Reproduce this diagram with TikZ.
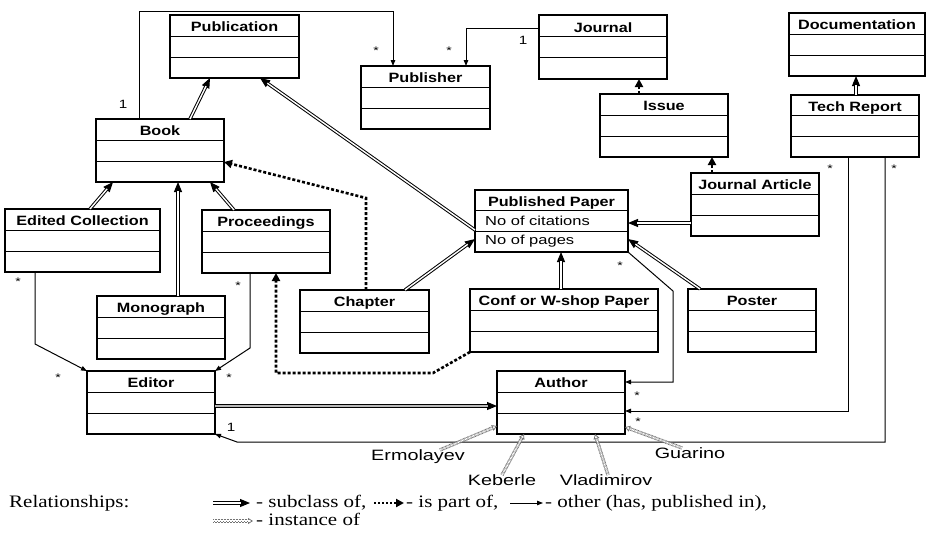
\documentclass[tikz,border=0pt]{standalone}
\usepackage{fontspec}
\setmainfont{Liberation Serif}[FakeStretch=1.2]
\newfontfamily\hvb{Liberation Sans}[FakeStretch=1.2]
\newfontfamily\hvr{Liberation Sans}[FakeStretch=1.27]
\newfontfamily\hvn{Liberation Sans}[FakeStretch=1.32]
\usetikzlibrary{arrows.meta,calc}

\tikzset{
  clsbox/.style={draw, line width=1.1pt, inner sep=0pt, outer sep=0pt, rectangle},
  clsline/.style={line width=1pt},
  clstitle/.style={inner sep=0pt, font=\hvb\bfseries\fontsize{13.5}{15}\selectfont, text height=9.7pt, text depth=0pt},
  clsattr/.style={inner sep=0pt, font=\hvr\fontsize{13}{15}\selectfont, text height=9.3pt, text depth=0pt},
  mult/.style={inner sep=0pt, font=\hvr\fontsize{11}{12}\selectfont},
  multone/.style={inner sep=0pt, font=\hvr\fontsize{12}{13}\selectfont},
  person/.style={inner sep=0pt, font=\hvn\fontsize{15}{17}\selectfont, text height=10.7pt, text depth=3pt},
  legtext/.style={inner sep=0pt, font=\fontsize{17.5}{19}\selectfont},
  other/.style={line width=1pt, -{Triangle[length=6pt,width=4.5pt]}},
  partof/.style={line width=2.6pt, dash pattern=on 3pt off 2pt, -{Triangle[length=8pt,width=8pt]}},
  subtip/.style={line width=1pt, -{Triangle[length=10pt,width=8pt]}},
  subline/.style={line width=1pt, double distance=1.4pt, shorten >=9pt},
  insttip/.style={draw=black!55, line width=0.8pt, -{Triangle[open,length=5pt,width=6pt]}},
  instline/.style={draw=black!55, line width=1pt, double=white, double distance=1.4pt, dash pattern=on 0.9pt off 0.6pt, shorten >=5pt},
}

\newcommand\umlcls[6]{%
  \pgfmathsetmacro\clsw{#4-#2}\pgfmathsetmacro\clsh{#5-#3}%
  \node[clsbox, minimum width=\clsw pt, minimum height=\clsh pt] (#1) at ({(#2+#4)/2},{(#3+#5)/2}) {};
  \draw[clsline] ($(#1.north west)!1/3!(#1.south west)$) -- ($(#1.north east)!1/3!(#1.south east)$);
  \draw[clsline] ($(#1.north west)!2/3!(#1.south west)$) -- ($(#1.north east)!2/3!(#1.south east)$);
  \node[clstitle, yshift=-1.5pt] (#1-t) at ($(#1.north)!1/6!(#1.south)$) {#6};
}
\newcommand\subarr[3][white]{%
  \draw[subtip] #2 -- #3;
  \draw[subline, double=#1] #2 -- #3;
}
\newcommand\instarr[2]{%
  \draw[insttip] #1 -- #2;
  \draw[instline] #1 -- #2;
}

\begin{document}
\begin{tikzpicture}[x=1pt, y=-1pt]
\useasboundingbox (0,0) rectangle (928,533);

% classes
\umlcls{pub}{170}{15}{299}{78}{Publication}
\umlcls{book}{96}{119}{224}{182}{Book}
\umlcls{pubr}{361}{66}{490}{129}{Publisher}
\umlcls{jour}{539}{15}{667}{79}{Journal}
\umlcls{issue}{600}{94}{728}{157}{Issue}
\umlcls{doc}{789}{13}{925}{76}{Documentation}
\umlcls{tr}{791}{95}{919}{157}{Tech Report}
\umlcls{ja}{691}{173}{819}{236}{Journal Article}
\umlcls{pp}{475}{190}{628}{252}{Published Paper}
\umlcls{ec}{5}{209}{160}{272}{Edited Collection}
\umlcls{proc}{202}{210}{330}{273}{Proceedings}
\umlcls{mono}{97}{296}{225}{359}{Monograph}
\umlcls{ed}{87}{371}{215}{434}{Editor}
\umlcls{chap}{300}{290}{429}{353}{Chapter}
\umlcls{conf}{470}{289}{658}{352}{Conf or W-shop Paper}
\umlcls{auth}{497}{371}{625}{434}{Author}
\umlcls{post}{688}{289}{816}{352}{Poster}

\node[clsattr, anchor=west] (pp-a) at ([xshift=10pt]$(pp.north west)!1/2!(pp.south west)$) {No of citations};
\node[clsattr, anchor=west, yshift=2pt] (pp-b) at ([xshift=10pt]$(pp.north west)!5/6!(pp.south west)$) {No of pages};

% bend points
\coordinate (k1) at (673,291);
\coordinate (k3) at (237,442);
\coordinate (k4) at (35,344);
\coordinate (k5) at (250,348);
\coordinate (k6) at (433,373);
\coordinate (k8) at (366,198);
\coordinate (k9) at (393,11);

% subclass
\subarr{([xshift=94pt]book.north west)}{([xshift=40pt]pub.south west)}
\subarr{([yshift=-40pt]pp.north west)}{([xshift=90pt]pub.south west)}
\subarr{([xshift=85pt]ec.north west)}{([xshift=17pt]book.south west)}
\subarr{([xshift=81pt]mono.north west)}{([xshift=82pt]book.south west)}
\subarr{([xshift=32pt]proc.north west)}{([xshift=114pt]book.south west)}
\subarr{([xshift=105pt]chap.north west)}{([yshift=13pt]pp.south west)}
\subarr{([xshift=91pt]conf.north west)}{([xshift=86pt]pp.south west)}
\subarr{([yshift=-50pt]ja.north west)}{([yshift=-33pt]pp.north east)}
\subarr{([xshift=12pt]post.north west)}{([yshift=13pt]pp.south east)}
\subarr{([xshift=65pt]tr.north west)}{([xshift=67pt]doc.south west)}
\subarr[gray!55]{([yshift=-35pt]ed.north east)}{([yshift=-35pt]auth.north west)}

% part of
\draw[partof] ([xshift=66pt]chap.north west) -- (k8) -- ([yshift=20pt]book.south east);
\draw[partof] (conf.south west) -- (k6) -| ([xshift=74pt]proc.south west);
\draw[partof] ([xshift=39pt]issue.north west) -- ([xshift=100pt]jour.south west);
\draw[partof] ([xshift=21pt]ja.north west) -- ([xshift=112pt]issue.south west);

% other
\draw[other] ([xshift=43pt]book.north west) |- (k9) -- ([xshift=32pt]pubr.north west);
\draw[other] ([yshift=-13pt]jour.north west) -| ([xshift=105pt]pubr.north west);
\draw[other] ([xshift=30pt]ec.south west) -- (k4) -- (ed.north west);
\draw[other] ([xshift=48pt]proc.south west) -- (k5) -- (ed.north east);
\draw[other] (pp.south east) -- (k1) |- ([yshift=-11pt]auth.north east);
\draw[other] ([xshift=57pt]tr.south west) |- ([yshift=-40pt]auth.north east);
\draw[other] ([xshift=94pt]tr.south west) |- (k3) -- (ed.south east);

% multiplicities
\node[multone] (m1) at (123,104) {1};
\node[mult] (m2) at (376,51) {*};
\node[mult] (m3) at (449,51) {*};
\node[multone] (m4) at (523,40) {1};
\node[mult] (m5) at (18,282) {*};
\node[mult] (m6) at (58,378) {*};
\node[mult] (m7) at (238,286) {*};
\node[mult] (m8) at (229,378) {*};
\node[mult] (m9) at (620,266) {*};
\node[mult] (m10) at (830,169) {*};
\node[mult] (m11) at (894,169) {*};
\node[mult] (m12) at (637,396) {*};
\node[mult] (m13) at (638,422) {*};
\node[multone] (m14) at (231,427) {1};

% persons
\node[person] (erm) at (418,457) {Ermolayev};
\node[person] (keb) at (502,482) {Keberle};
\node[person] (vla) at (606,482) {Vladimirov};
\node[person] (gua) at (690,455) {Guarino};
\instarr{([xshift=22pt]erm.north)}{([yshift=8pt]auth.south west)}
\instarr{(keb.north)}{([xshift=27pt]auth.south west)}
\instarr{([xshift=2pt]vla.north)}{([xshift=98pt]auth.south west)}
\instarr{([xshift=-8pt]gua.north)}{([yshift=7pt]auth.south east)}

% legend
\node[legtext, anchor=base west] (lg0) at (9,507) {Relationships:};
\coordinate (la1) at (213,503); \coordinate (lb1) at (250,503);
\subarr{(la1)}{(lb1)}
\node[legtext, anchor=base west] (lg1) at (256,507) {- subclass of,};
\coordinate (la2) at (374,503); \coordinate (lb2) at (404,503);
\draw[partof, line width=2.2pt, dash pattern=on 2pt off 2pt] (la2) -- (lb2);
\node[legtext, anchor=base west] (lg2) at (406,507) {- is part of,};
\coordinate (la3) at (510,503); \coordinate (lb3) at (543,503);
\draw[other] (la3) -- (lb3);
\node[legtext, anchor=base west] (lg3) at (545,507) {- other (has, published in),};
\coordinate (la4) at (213,521); \coordinate (lb4) at (253,521);
\instarr{(la4)}{(lb4)}
\node[legtext, anchor=base west] (lg4) at (256,525) {- instance of};
\end{tikzpicture}
\end{document}
